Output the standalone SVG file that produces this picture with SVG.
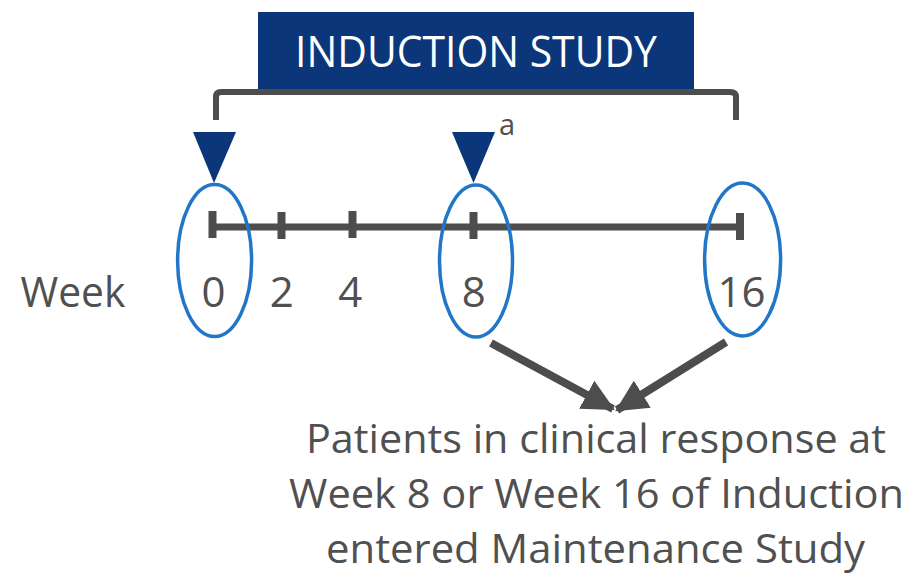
<svg xmlns="http://www.w3.org/2000/svg" width="913" height="575" viewBox="0 0 913 575">
<style>
.lbl{font-family:"Open Sans","Noto Sans",sans-serif;fill:#505050;}
.tl{stroke:#4d4d4d;fill:none;}
.ell{fill:none;stroke:#2176c7;stroke-width:3.5;}
.tri{fill:#0b3679;}
</style>
<defs>
<marker id="ah" viewBox="0 0 30 30" refX="28" refY="15" markerWidth="32" markerHeight="32" markerUnits="userSpaceOnUse" orient="auto">
<path d="M0,0 L30,15 L0,30 Z" fill="#4d4d4d"/>
</marker>
</defs>
<rect width="913" height="575" fill="#ffffff"/>
<g id="induction-study">
<rect x="258" y="12" width="436" height="78" fill="#0b3679"/>
<text x="295" y="67" font-family="Open Sans, Noto Sans, sans-serif" font-size="43" fill="#ffffff" textLength="362" lengthAdjust="spacingAndGlyphs">INDUCTION STUDY</text>
</g>
<g id="bracket">
<path class="tl" stroke-width="6" d="M216,120 V97 Q216,92 221,92 H730 Q736,92 736,97 V120"/>
</g>
<g id="triangles">
<polygon class="tri" points="193,132 236,132 214,183"/>
<polygon class="tri" points="452,132 495,132 473.5,183"/>
<text class="lbl" x="499" y="135" font-size="29">a</text>
</g>
<g id="timeline">
<line class="tl" x1="212" y1="227" x2="740" y2="227" stroke-width="7"/>
<line class="tl" x1="212.5" y1="211" x2="212.5" y2="238" stroke-width="8"/>
<line class="tl" x1="281.5" y1="212" x2="281.5" y2="239" stroke-width="8"/>
<line class="tl" x1="352.5" y1="211" x2="352.5" y2="238" stroke-width="8"/>
<line class="tl" x1="473.5" y1="212" x2="473.5" y2="239" stroke-width="8"/>
<line class="tl" x1="740" y1="213" x2="740" y2="240" stroke-width="8"/>
</g>
<g id="labels">
<text class="lbl" x="20.5" y="306.5" font-size="42" textLength="105" lengthAdjust="spacingAndGlyphs">Week</text>
<text class="lbl" x="213.4" y="306.5" font-size="42" text-anchor="middle">0</text>
<text class="lbl" x="281.8" y="306.5" font-size="42" text-anchor="middle">2</text>
<text class="lbl" x="350.3" y="306.5" font-size="42" text-anchor="middle">4</text>
<text class="lbl" x="473.8" y="306.5" font-size="42" text-anchor="middle">8</text>
<text class="lbl" x="741.5" y="306.5" font-size="42" text-anchor="middle">16</text>
</g>
<g id="week0">
<ellipse class="ell" cx="214.6" cy="260.5" rx="37" ry="76"/>
</g>
<g id="week8">
<ellipse class="ell" cx="476" cy="261" rx="36.5" ry="76"/>
</g>
<g id="week16">
<ellipse class="ell" cx="742.6" cy="259.5" rx="38" ry="76.5"/>
</g>
<g id="connectors">
<line class="tl" x1="491" y1="343" x2="613" y2="409" stroke-width="8" marker-end="url(#ah)"/>
<line class="tl" x1="726" y1="342" x2="617" y2="410" stroke-width="8" marker-end="url(#ah)"/>
</g>
<g id="outcome">
<text class="lbl" x="306" y="453" font-size="40" textLength="580" lengthAdjust="spacingAndGlyphs">Patients in clinical response at</text>
<text class="lbl" x="289" y="508" font-size="40" textLength="615" lengthAdjust="spacingAndGlyphs">Week 8 or Week 16 of Induction</text>
<text class="lbl" x="326" y="563" font-size="40" textLength="539" lengthAdjust="spacingAndGlyphs">entered Maintenance Study</text>
</g>
</svg>
